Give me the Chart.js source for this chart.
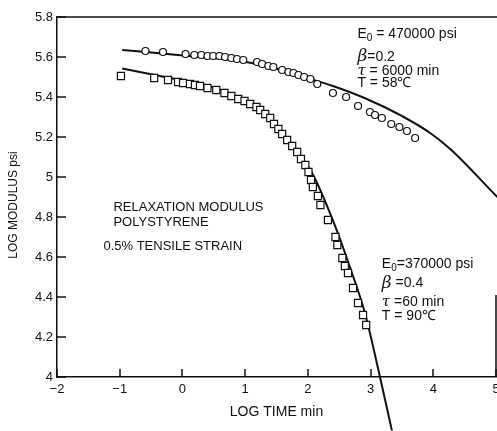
<!DOCTYPE html>
<html>
<head>
<meta charset="utf-8">
<script src="https://cdn.jsdelivr.net/npm/chart.js@4.4.0/dist/chart.umd.min.js"></script>
<style>
  html, body { margin: 0; padding: 0; background: #fff; overflow: hidden; }
  #wrap { width: 497px; height: 431px; }
</style>
</head>
<body>
<div id="wrap"><canvas id="relax"></canvas></div>
<script>
// 58 C run: measured points (circles) and fitted curve
const timeA = [-0.59, -0.31, 0.05, 0.19, 0.30, 0.40, 0.49, 0.59, 0.68, 0.78, 0.87, 0.97, 1.19, 1.27, 1.37,
  1.45, 1.59, 1.69, 1.77, 1.85, 1.94, 2.04, 2.15, 2.40, 2.61, 2.80, 2.99, 3.07, 3.18, 3.33, 3.46, 3.58, 3.71];
const modA = [5.63, 5.625, 5.615, 5.61, 5.61, 5.605, 5.605, 5.605, 5.60, 5.595, 5.59, 5.585, 5.575, 5.565, 5.555,
  5.55, 5.535, 5.525, 5.52, 5.51, 5.50, 5.49, 5.465, 5.42, 5.40, 5.355, 5.325, 5.31, 5.295, 5.265, 5.25, 5.23, 5.195];
const fitTimeA = [-0.96, -0.24, 0.28, 0.92, 1.40, 1.88, 2.40, 2.94, 3.47, 3.95, 4.27, 5.02];
const fitModA = [5.635, 5.615, 5.60, 5.58, 5.55, 5.505, 5.455, 5.39, 5.31, 5.22, 5.14, 4.90];

// 90 C run: squares and fitted curve
const timeB = [-0.98, -0.45, -0.23, -0.07, 0.01, 0.12, 0.20, 0.28, 0.40, 0.54, 0.67, 0.78, 0.89, 0.99, 1.08,
  1.18, 1.24, 1.32, 1.40, 1.46, 1.53, 1.59, 1.67, 1.75, 1.83, 1.89, 1.96, 2.01, 2.05, 2.08,
  2.16, 2.20, 2.32, 2.44, 2.47, 2.55, 2.59, 2.64, 2.72, 2.80, 2.88, 2.93];
const modB = [5.505, 5.495, 5.485, 5.475, 5.47, 5.465, 5.46, 5.455, 5.445, 5.435, 5.42, 5.405, 5.39, 5.38, 5.365,
  5.35, 5.335, 5.315, 5.295, 5.265, 5.24, 5.215, 5.185, 5.155, 5.125, 5.09, 5.06, 5.025, 4.985, 4.95,
  4.905, 4.86, 4.785, 4.70, 4.66, 4.595, 4.555, 4.52, 4.445, 4.37, 4.31, 4.26];
const fitTimeB = [-0.96, -0.24, 0.39, 0.97, 1.45, 1.83, 2.07, 2.40, 2.67, 2.91, 3.15, 3.34];
const fitModB = [5.543, 5.498, 5.458, 5.383, 5.268, 5.118, 5.018, 4.783, 4.55, 4.32, 4.0, 3.733];

// axes
const xTicks = [-2, -1, 0, 1, 2, 3, 4, 5];
const xTickLabels = ['\u22122', '\u22121', '0', '1', '2', '3', '4', '5'];
const yTicks = [4, 4.2, 4.4, 4.6, 4.8, 5, 5.2, 5.4, 5.6, 5.8];

const ink = '#111';
const face = '"Liberation Sans", Arial, sans-serif';

const pts = (xs, ys) => xs.map((v, i) => ({ x: v, y: ys[i] }));

// writes a line made of pieces (normal text, subscript, greek letters)
function writeLine(ctx, x, y, parts) {
  let cx = x;
  parts.forEach(p => {
    ctx.font = p.font;
    ctx.fillText(p.t, cx, y + (p.dy || 0));
    cx += ctx.measureText(p.t).width;
  });
}

// stretch the plot so its right edge sits 1px from the canvas edge
const fullWidth = {
  id: 'fullWidth',
  afterLayout(chart) {
    const right = chart.width - 1;
    const s = chart.scales.x;
    s.right = right;
    s.width = right - s.left;
    s.configure();
    chart.chartArea.right = right;
    chart.chartArea.width = right - chart.chartArea.left;
  }
};

const notes = {
  id: 'notes',
  afterDraw(chart) {
    const { ctx, chartArea: a, scales: { x, y } } = chart;
    ctx.save();
    ctx.strokeStyle = ink;
    ctx.lineWidth = 1.5;
    ctx.beginPath();
    // tick marks point into the plot
    xTicks.forEach(v => {
      const px = Math.round(x.getPixelForValue(v));
      ctx.moveTo(px, a.bottom);
      ctx.lineTo(px, a.bottom - 8);
    });
    yTicks.forEach(v => {
      const py = Math.round(y.getPixelForValue(v));
      ctx.moveTo(a.left, py);
      ctx.lineTo(a.left + 9, py);
    });
    ctx.stroke();

    // frame: top edge, short right edge
    ctx.beginPath();
    ctx.moveTo(a.left, a.top);
    ctx.lineTo(a.right + 2, a.top);
    ctx.moveTo(a.right, y.getPixelForValue(4.41));
    ctx.lineTo(a.right, a.bottom);
    ctx.stroke();

    ctx.fillStyle = ink;

    // x tick labels (drawn here so the last one may run off the edge)
    ctx.font = '13px ' + face;
    ctx.textAlign = 'center';
    ctx.textBaseline = 'middle';
    xTicks.forEach((v, i) => {
      ctx.fillText(xTickLabels[i], x.getPixelForValue(v), a.bottom + 12);
    });

    ctx.textAlign = 'left';
    const big = '14px ' + face;
    const sub = '10px ' + face;
    const greek = 'italic 17px "DejaVu Serif", serif';
    const tau = 'italic 15px "DejaVu Serif", serif';

    // parameters of the 58 C fit
    let lx = x.getPixelForValue(2.79);
    writeLine(ctx, lx, y.getPixelForValue(5.714), [{ t: 'E', font: big }, { t: '0', font: sub, dy: 4 }, { t: ' = 470000 psi', font: big }]);
    writeLine(ctx, lx, y.getPixelForValue(5.60), [{ t: 'β', font: greek }, { t: '=0.2', font: big }]);
    writeLine(ctx, lx, y.getPixelForValue(5.53), [{ t: 'τ', font: tau }, { t: ' = 6000 min', font: big }]);
    writeLine(ctx, lx, y.getPixelForValue(5.468), [{ t: 'T = 58℃', font: big }]);

    // parameters of the 90 C fit
    lx = x.getPixelForValue(3.18);
    writeLine(ctx, lx, y.getPixelForValue(4.563), [{ t: 'E', font: big }, { t: '0', font: sub, dy: 4 }, { t: '=370000 psi', font: big }]);
    writeLine(ctx, lx, y.getPixelForValue(4.468), [{ t: 'β', font: greek }, { t: ' =0.4', font: big }]);
    writeLine(ctx, lx, y.getPixelForValue(4.373), [{ t: 'τ', font: tau }, { t: ' =60 min', font: big }]);
    writeLine(ctx, lx, y.getPixelForValue(4.303), [{ t: 'T = 90℃', font: big }]);

    // description
    ctx.font = '13px ' + face;
    ctx.fillText('RELAXATION MODULUS', x.getPixelForValue(-1.1), y.getPixelForValue(4.846));
    ctx.fillText('POLYSTYRENE', x.getPixelForValue(-1.1), y.getPixelForValue(4.773));
    ctx.fillText('0.5% TENSILE STRAIN', x.getPixelForValue(-1.26), y.getPixelForValue(4.651));

    // y axis title
    ctx.font = '12px ' + face;
    ctx.translate(14, (a.top + a.bottom) / 2 + 8);
    ctx.rotate(-Math.PI / 2);
    ctx.textAlign = 'center';
    ctx.fillText('LOG MODULUS psi', 0, 0);
    ctx.restore();
  }
};

new Chart(document.getElementById('relax'), {
  type: 'scatter',
  data: {
    datasets: [
      {
        data: pts(timeA, modA),
        pointStyle: 'circle',
        pointRadius: 3.5,
        pointBorderWidth: 1.2,
        pointBorderColor: ink,
        pointBackgroundColor: '#fff',
        showLine: false
      },
      {
        data: pts(timeB, modB),
        pointStyle: 'rect',
        pointRadius: 5,
        pointBorderWidth: 1.2,
        pointBorderColor: ink,
        pointBackgroundColor: '#fff',
        showLine: false
      },
      {
        data: pts(fitTimeA, fitModA),
        showLine: true,
        pointRadius: 0,
        borderColor: ink,
        borderWidth: 2,
        cubicInterpolationMode: 'monotone',
        clip: false
      },
      {
        data: pts(fitTimeB, fitModB),
        showLine: true,
        pointRadius: 0,
        borderColor: ink,
        borderWidth: 2,
        cubicInterpolationMode: 'monotone',
        clip: false
      }
    ]
  },
  options: {
    responsive: true,
    maintainAspectRatio: false,
    animation: false,
    devicePixelRatio: 1,
    layout: { padding: { top: 17, right: 1, left: 0, bottom: 0 } },
    plugins: { legend: { display: false }, tooltip: { enabled: false } },
    scales: {
      x: {
        type: 'linear',
        min: -2,
        max: 5,
        afterBuildTicks: s => { s.ticks = xTicks.map(v => ({ value: v })); },
        afterFit: s => { s.height = 54; },
        grid: { display: false, drawTicks: false },
        border: { display: true, color: ink, width: 1.5 },
        ticks: { display: false },
        title: {
          display: true,
          text: 'LOG TIME min',
          color: ink,
          font: { family: face, size: 14 },
          padding: { top: 0, bottom: 10 }
        }
      },
      y: {
        type: 'linear',
        min: 4,
        max: 5.8,
        afterBuildTicks: s => { s.ticks = yTicks.map(v => ({ value: v })); },
        afterFit: s => { s.width = 57; },
        grid: { display: false, drawTicks: false },
        border: { display: true, color: ink, width: 1.5 },
        ticks: {
          color: ink,
          padding: 4,
          font: { family: face, size: 13 },
          callback: v => String(v)
        }
      }
    }
  },
  plugins: [fullWidth, notes]
});
</script>
</body>
</html>
